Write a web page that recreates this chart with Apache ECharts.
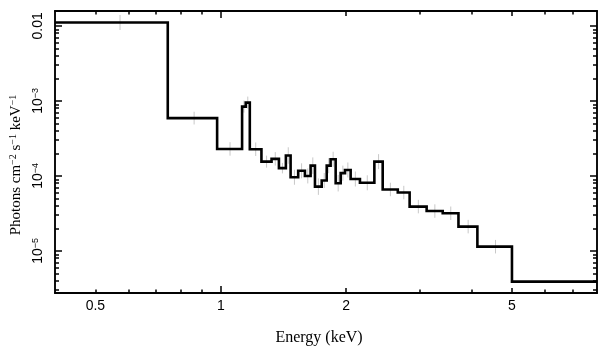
<!DOCTYPE html>
<html><head><meta charset="utf-8">
<script src="https://cdn.jsdelivr.net/npm/echarts@6/dist/echarts.min.js"></script>
<style>html,body{margin:0;padding:0;background:#fff}#c{width:609px;height:357px}</style>
</head><body><div id="c"></div>
<script>
// ---- data ----
const binEdges = [0.4, 0.746, 0.98, 1.125, 1.148, 1.174, 1.252, 1.324, 1.379, 1.433, 1.471, 1.534, 1.592,
  1.643, 1.683, 1.747, 1.796, 1.835, 1.887, 1.94, 1.987, 2.05, 2.158, 2.337, 2.447, 2.66, 2.84,
  3.12, 3.41, 3.72, 4.13, 5.0, 8.0];
const binValues = [1.11e-2, 5.9e-4, 2.29e-4, 8.4e-4, 9.5e-4, 2.27e-4, 1.55e-4, 1.69e-4, 1.27e-4, 1.87e-4,
  9.6e-5, 1.17e-4, 1.0e-4, 1.37e-4, 7.2e-5, 8.7e-5, 1.37e-4, 1.67e-4, 8.0e-5, 1.09e-4, 1.2e-4,
  9.1e-5, 8.1e-5, 1.55e-4, 6.6e-5, 6.0e-5, 3.9e-5, 3.4e-5, 3.18e-5, 2.11e-5, 1.14e-5, 3.9e-6];
// half length of each faint error bar, in decades
const errDex = [0.1, 0.085, 0.09, 0.08, 0.08, 0.09, 0.08, 0.09, 0.07, 0.11, 0.1, 0.1, 0.1, 0.11, 0.11,
  0.1, 0.1, 0.1, 0.11, 0.1, 0.1, 0.1, 0.1, 0.1, 0.09, 0.09, 0.09, 0.09, 0.09, 0.09, 0.09, null];

const xRange = [0.4, 8];
const yRange = [2.75e-6, 0.0158];
const xLabelValues = [0.5, 1, 2, 5];
const xLabelTexts = ['0.5', '1', '2', '5'];
const xMajorTicks = [1];
const xMidTicks = [2, 5];
const xMinorTicks = [0.5, 0.6, 0.7, 0.8, 0.9, 3, 4, 6, 7];
const yLabelValues = [1e-5, 1e-4, 1e-3, 1e-2];
const yLabelTexts = ['10{sup|\u22125}', '10{sup|\u22124}', '10{sup|\u22123}', '0.01'];
const yMinorTicks = [3e-6, 4e-6, 5e-6, 6e-6, 7e-6, 8e-6, 9e-6,
  2e-5, 3e-5, 4e-5, 5e-5, 6e-5, 7e-5, 8e-5, 9e-5,
  2e-4, 3e-4, 4e-4, 5e-4, 6e-4, 7e-4, 8e-4, 9e-4,
  2e-3, 3e-3, 4e-3, 5e-3, 6e-3, 7e-3, 8e-3, 9e-3];
const xTitle = 'Energy (keV)';
const yTitle = 'Photons cm{sup|\u22122} s{sup|\u22121} keV{sup|\u22121}';

// ---- build ----
const stepData = binEdges.map((e, i) => [e, binValues[Math.min(i, binValues.length - 1)]]);
const errData = [];
binValues.forEach((v, i) => {
  if (errDex[i] == null) return;
  const c = (binEdges[i] + binEdges[i + 1]) / 2;
  errData.push([c, v * Math.pow(10, -errDex[i]), v * Math.pow(10, errDex[i])]);
});

const sans = 'Liberation Sans';
const serif = 'Liberation Serif';
const lineSt = { color: '#000', width: 1.5 };

function findText(vals, texts, v) {
  for (let i = 0; i < vals.length; i++) if (Math.abs(vals[i] - v) / vals[i] < 1e-6) return texts[i];
  return '';
}

function xAx(pos, ticks, len, withLabels) {
  const ax = {
    type: 'log', logBase: 10, min: xRange[0], max: xRange[1], position: pos,
    axisLine: { show: true, lineStyle: lineSt },
    axisTick: { show: true, inside: true, length: len, customValues: ticks, lineStyle: lineSt },
    axisLabel: { show: false },
    splitLine: { show: false }, minorTick: { show: false }, minorSplitLine: { show: false }
  };
  if (withLabels) {
    ax.axisLabel = {
      show: true, customValues: xLabelValues, margin: 6, color: '#000',
      fontFamily: sans, fontSize: 14,
      formatter: v => findText(xLabelValues, xLabelTexts, v)
    };
    ax.name = xTitle;
    ax.nameLocation = 'middle';
    ax.nameGap = 37;
    ax.nameTextStyle = { fontFamily: serif, fontSize: 16, color: '#000', padding: [0, 14, 0, 0] };
  }
  return ax;
}
function yAx(pos, ticks, len, withLabels) {
  const ax = {
    type: 'log', logBase: 10, min: yRange[0], max: yRange[1], position: pos,
    axisLine: { show: true, lineStyle: lineSt },
    axisTick: { show: true, inside: true, length: len, customValues: ticks, lineStyle: lineSt },
    axisLabel: { show: false },
    splitLine: { show: false }, minorTick: { show: false }, minorSplitLine: { show: false }
  };
  if (withLabels) {
    ax.axisLabel = {
      show: true, customValues: yLabelValues, margin: 10, rotate: 90, color: '#000',
      fontFamily: sans, fontSize: 14,
      formatter: v => findText(yLabelValues, yLabelTexts, v),
      rich: { sup: { fontFamily: sans, fontSize: 9, verticalAlign: 'top', lineHeight: 9, color: '#000' } }
    };
    ax.name = yTitle;
    ax.nameLocation = 'middle';
    ax.nameGap = 28;
    ax.nameTextStyle = {
      fontFamily: serif, fontSize: 15, color: '#000', padding: [0, 26, 0, 0],
      rich: { sup: { fontFamily: serif, fontSize: 10, verticalAlign: 'top', lineHeight: 10, color: '#000' } }
    };
  }
  return ax;
}

const chart = echarts.init(document.getElementById('c'), null, { renderer: 'canvas' });
chart.setOption({
  animation: false,
  backgroundColor: '#fff',
  grid: { left: 55, right: 12, top: 11, bottom: 64, outerBoundsMode: 'none', containLabel: false },
  xAxis: [
    xAx('bottom', xMinorTicks, 3.5, true),
    xAx('bottom', xMidTicks, 5, false),
    xAx('bottom', xMajorTicks, 7, false),
    xAx('top', xMinorTicks, 3.5, false),
    xAx('top', xMidTicks, 5, false),
    xAx('top', xMajorTicks, 7, false)
  ],
  yAxis: [
    yAx('left', yLabelValues, 7, true),
    yAx('left', yMinorTicks, 4, false),
    yAx('right', yLabelValues, 7, false),
    yAx('right', yMinorTicks, 4, false)
  ],
  series: [
    {
      type: 'custom', xAxisIndex: 0, yAxisIndex: 0, silent: true, z: 1,
      encode: { x: 0, y: [1, 2] },
      data: errData,
      renderItem: (params, api) => {
        const p1 = api.coord([api.value(0), api.value(1)]);
        const p2 = api.coord([api.value(0), api.value(2)]);
        return { type: 'line', shape: { x1: p1[0], y1: p1[1], x2: p2[0], y2: p2[1] },
                 style: { stroke: '#c8c8c8', lineWidth: 1 } };
      }
    },
    {
      type: 'line', xAxisIndex: 0, yAxisIndex: 0, step: 'end', data: stepData,
      symbol: 'none', showSymbol: false, silent: true, z: 2,
      lineStyle: { color: '#000', width: 2.6, join: 'miter' }
    }
  ]
});
</script></body></html>
